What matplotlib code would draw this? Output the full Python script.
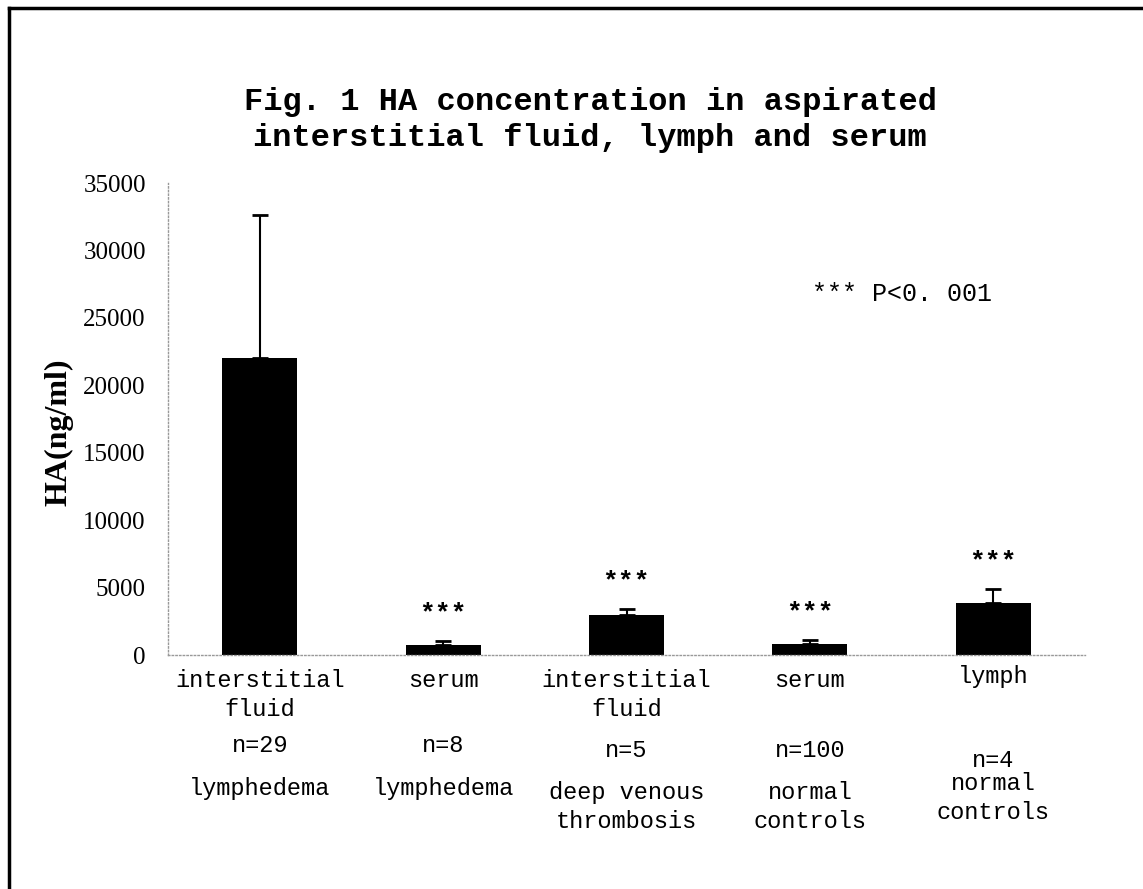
import matplotlib.pyplot as plt
import matplotlib.transforms as mtransforms
from matplotlib.lines import Line2D

# data
groups = ["interstitial\nfluid", "serum", "interstitial\nfluid", "serum", "lymph"]
n_labels = ["n=29", "n=8", "n=5", "n=100", "n=4"]
conditions = ["lymphedema", "lymphedema", "deep venous\nthrombosis",
              "normal\ncontrols", "normal\ncontrols"]
means = [22000, 750, 3000, 800, 3850]
sd_up = [10600, 300, 400, 300, 1050]
stars = ["", "***", "***", "***", "***"]

# vertical placement of the label rows (top of text, pixels from top of figure)
group_y = [669, 669, 669, 669, 665]
n_y = [734, 734, 739, 739, 749]
cond_y = [777, 777, 781, 781, 772]

W, H = 1143, 889
fig = plt.figure(figsize=(W / 100, H / 100), dpi=100)
ax = fig.add_axes([168 / W, 1 - 655 / H, 917 / W, 472 / H])

x = range(len(means))
ax.bar(x, means, width=0.41, color='black',
       yerr=[[0] * len(means), sd_up], capsize=6,
       error_kw=dict(ecolor='black', elinewidth=1.5, capthick=2))

for i, s in enumerate(stars):
    if s:
        ax.annotate(s, (i, means[i] + sd_up[i]), xytext=(0, 20),
                    textcoords='offset points', ha='center', va='center',
                    fontsize=19, fontweight='bold', family='Liberation Mono')

ax.set_xlim(-0.5, 4.5)
ax.set_ylim(0, 35000)
ax.set_yticks(range(0, 35001, 5000))
ax.set_xticks([])
ax.tick_params(axis='y', length=0, pad=16, labelsize=18)
for lab in ax.get_yticklabels():
    lab.set_family('Liberation Serif')
for side in ['top', 'right']:
    ax.spines[side].set_visible(False)
for side in ['left', 'bottom']:
    ax.spines[side].set_linestyle(':')
    ax.spines[side].set_color('#999999')
    ax.spines[side].set_linewidth(1)

ax.set_ylabel('HA(ng/ml)', fontsize=23, fontweight='bold', family='Liberation Serif')
ax.yaxis.set_label_coords(-0.103, 0.472)

# category labels under the bars
trans = mtransforms.blended_transform_factory(ax.transData, fig.transFigure)
for i in x:
    for txt, ypx in [(groups[i], group_y[i]), (n_labels[i], n_y[i]), (conditions[i], cond_y[i])]:
        ax.text(i, 1 - ypx / H, txt, transform=trans, ha='center', va='top',
                fontsize=17, family='Liberation Mono', linespacing=1.35,
                clip_on=False)

ax.text(0.80, 0.765, '*** P<0. 001', transform=ax.transAxes, ha='center', va='center',
        fontsize=18, family='Liberation Mono')

fig.text(590 / W, 1 - 120 / H, 'Fig. 1 HA concentration in aspirated\ninterstitial fluid, lymph and serum',
         ha='center', va='center', fontsize=23, fontweight='bold',
         family='Liberation Mono', linespacing=1.25)

# frame lines around the figure (left and top only)
fig.add_artist(Line2D([9 / W, 9 / W], [0, 1 - 8 / H], transform=fig.transFigure,
                      color='black', linewidth=2.5))
fig.add_artist(Line2D([9 / W, 1], [1 - 8 / H, 1 - 8 / H], transform=fig.transFigure,
                      color='black', linewidth=2.5))

fig.savefig('out.png', dpi=100)
